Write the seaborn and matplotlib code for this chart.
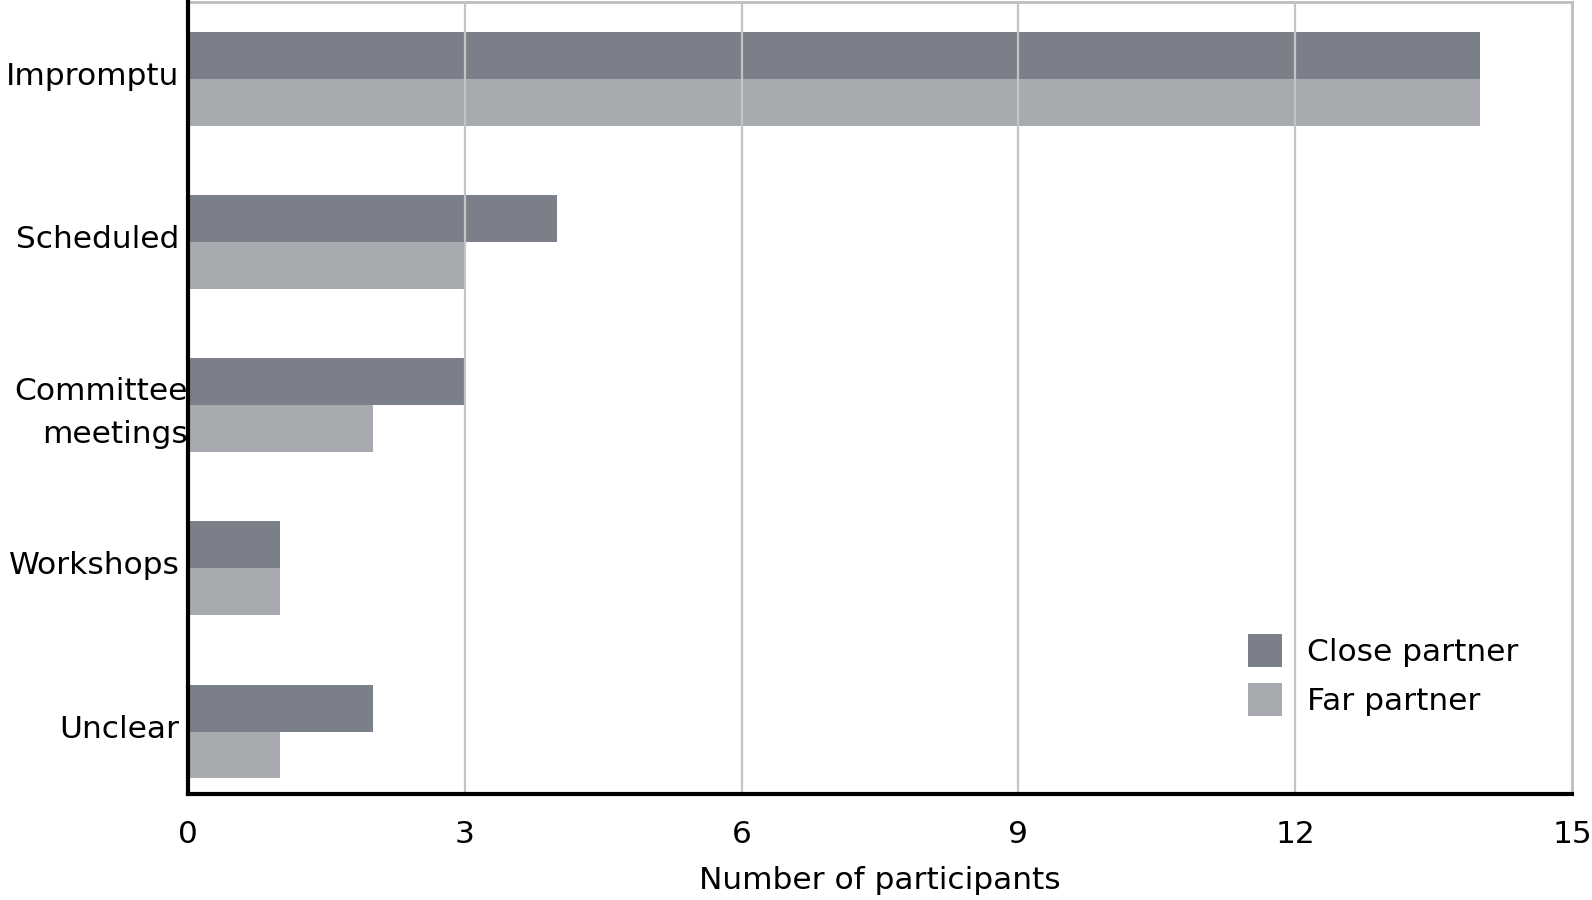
import matplotlib
matplotlib.use("Agg")
import matplotlib.pyplot as plt
import matplotlib.transforms as mtransforms
import seaborn as sns
import pandas as pd

categories = ["Impromptu", "Scheduled", "Committee\nmeetings", "Workshops", "Unclear"]
close_partner = [14, 4, 3, 1, 2]
far_partner = [14, 3, 2, 1, 1]
series_names = ["Close partner", "Far partner"]
xticks = [0, 3, 6, 9, 12, 15]

df = pd.DataFrame({
    "category": categories * 2,
    "value": close_partner + far_partner,
    "series": [series_names[0]] * len(categories) + [series_names[1]] * len(categories),
})

sns.set_theme(style="white")
plt.rcParams["font.family"] = ["DejaVu Sans"]
plt.rcParams["text.color"] = "black"

fig = plt.figure(figsize=(15.92, 9), dpi=100)
ax = fig.add_axes([0.1181, 0.1178, 0.8693, 0.88])

sns.barplot(data=df, y="category", x="value", hue="series", orient="h",
            palette=["#7a7f89", "#a7aaae"], width=0.576, dodge=True,
            saturation=1, linewidth=0, edgecolor="none", ax=ax, legend=True)

ax.set_xlim(0, 15)
ax.set_ylim(4.383, -0.472)
ax.set_xticks(xticks)
ax.set_xticklabels([str(t) for t in xticks])
ax.grid(axis="x", color="#c4c4c4", linewidth=1.6)
ax.grid(axis="y", visible=False)
ax.set_axisbelow(False)

for side in ["left", "bottom"]:
    ax.spines[side].set_color("black")
    ax.spines[side].set_linewidth(3)
    ax.spines[side].set_zorder(5)
for side in ["top", "right"]:
    ax.spines[side].set_color("#bdbdbd")
    ax.spines[side].set_linewidth(2)

ax.tick_params(axis="x", length=0, pad=19, labelsize=22.5, colors="black")
ax.tick_params(axis="y", length=0, pad=6, labelsize=22.5, colors="black")
ax.set_xlabel("Number of participants", fontsize=22.5, color="black", labelpad=12)
ax.set_ylabel("")

handles, labels = ax.get_legend_handles_labels()
ax.legend(handles, labels, loc="upper left", bbox_to_anchor=(0.766, 0.202),
          frameon=False, fontsize=22.5, handlelength=1.1, handleheight=1.25,
          handletextpad=0.77, labelspacing=0.52, borderpad=0, borderaxespad=0,
          labelcolor="black")

for lbl in ax.get_yticklabels():
    if "Committee" in lbl.get_text():
        lbl.set_linespacing(1.62)
        lbl.set_transform(lbl.get_transform() +
                          mtransforms.ScaledTranslation(0.08, 0.02, fig.dpi_scale_trans))
    else:
        lbl.set_transform(lbl.get_transform() +
                          mtransforms.ScaledTranslation(0, 0.055, fig.dpi_scale_trans))

fig.savefig("out.png", dpi=100)
